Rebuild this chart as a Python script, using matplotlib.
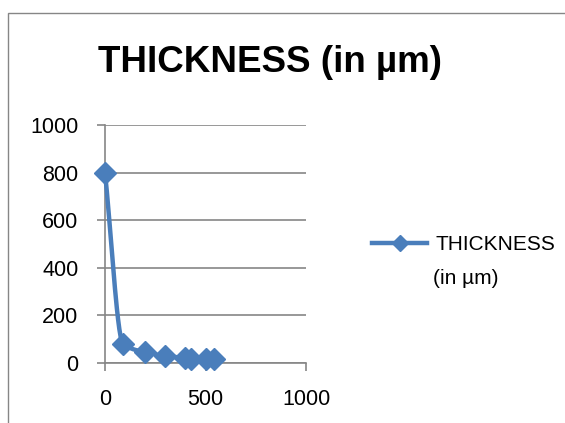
import numpy as np
import matplotlib.pyplot as plt
from matplotlib.patches import Rectangle

# data
x_vals = [0, 90, 200, 300, 400, 430, 500, 540]
thickness = [800, 80, 45, 30, 20, 15, 18, 15]
x_ticks = [0, 500, 1000]
y_ticks = [0, 200, 400, 600, 800, 1000]

BLUE = '#4A7EBB'
GRAY = '#868686'

plt.rcParams['font.family'] = ['Liberation Sans', 'DejaVu Sans']


def smooth(xs, ys, n=30):
    # monotone cubic (Fritsch-Carlson) curve through the points, no overshoot
    xs = np.asarray(xs, float)
    ys = np.asarray(ys, float)
    h = np.diff(xs)
    d = np.diff(ys) / h
    m = np.zeros_like(ys)
    m[0], m[-1] = d[0], d[-1]
    for k in range(1, len(xs) - 1):
        if d[k - 1] * d[k] > 0:
            w1 = 2 * h[k] + h[k - 1]
            w2 = h[k] + 2 * h[k - 1]
            m[k] = (w1 + w2) / (w1 / d[k - 1] + w2 / d[k])
    out_x, out_y = [], []
    t = np.linspace(0, 1, n)
    for k in range(len(xs) - 1):
        h00 = 2 * t ** 3 - 3 * t ** 2 + 1
        h10 = t ** 3 - 2 * t ** 2 + t
        h01 = -2 * t ** 3 + 3 * t ** 2
        h11 = t ** 3 - t ** 2
        out_x.extend(xs[k] + t * h[k])
        out_y.extend(h00 * ys[k] + h10 * h[k] * m[k] + h01 * ys[k + 1] + h11 * h[k] * m[k + 1])
    return out_x, out_y


W, H = 565, 423
fig = plt.figure(figsize=(W / 100, H / 100), dpi=100)

# chart border (cut off at right and bottom)
fig.patches.append(Rectangle((8 / W, -0.1), 1.2, 1.1 - 13 / H, transform=fig.transFigure,
                             fill=False, edgecolor=GRAY, linewidth=1))

ax = fig.add_axes([105 / W, (H - 363) / H, 201 / W, 238 / H])

sx, sy = smooth(x_vals, thickness)
ax.plot(sx, sy, color=BLUE, linewidth=3.2, solid_capstyle='round', zorder=3,
        clip_on=False)
ax.plot(x_vals, thickness, linestyle='none', marker='D', markersize=11,
        color=BLUE, zorder=4, clip_on=False)

ax.set_xlim(0, 1000)
ax.set_ylim(0, 1000)
ax.set_xticks(x_ticks)
ax.set_yticks(y_ticks)
ax.yaxis.grid(True, color=GRAY, linewidth=1.2)
ax.set_axisbelow(True)
for s in ['top', 'right']:
    ax.spines[s].set_visible(False)
for s in ['left', 'bottom']:
    ax.spines[s].set_color(GRAY)
    ax.spines[s].set_linewidth(1.2)
ax.tick_params(axis='both', direction='out', length=6, width=1.2, color=GRAY,
               labelsize=15.5, pad=13)

fig.text(270 / W, 1 - 63 / H, 'THICKNESS (in µm)', ha='center', va='center',
         fontsize=26.5, fontweight='bold')

# legend
handle = plt.Line2D([], [], color=BLUE, linewidth=3.2, marker='D', markersize=8)
fig.legend(handles=[handle], labels=['THICKNESS'], loc='center left',
           bbox_to_anchor=(372 / W, 1 - 245 / H), frameon=False,
           fontsize=15, handlelength=2.65, handletextpad=0.38, borderaxespad=0,
           borderpad=0)
fig.text(433 / W, 1 - 279 / H, '(in µm)', ha='left', va='center', fontsize=15)

fig.savefig('out.png', dpi=100)
